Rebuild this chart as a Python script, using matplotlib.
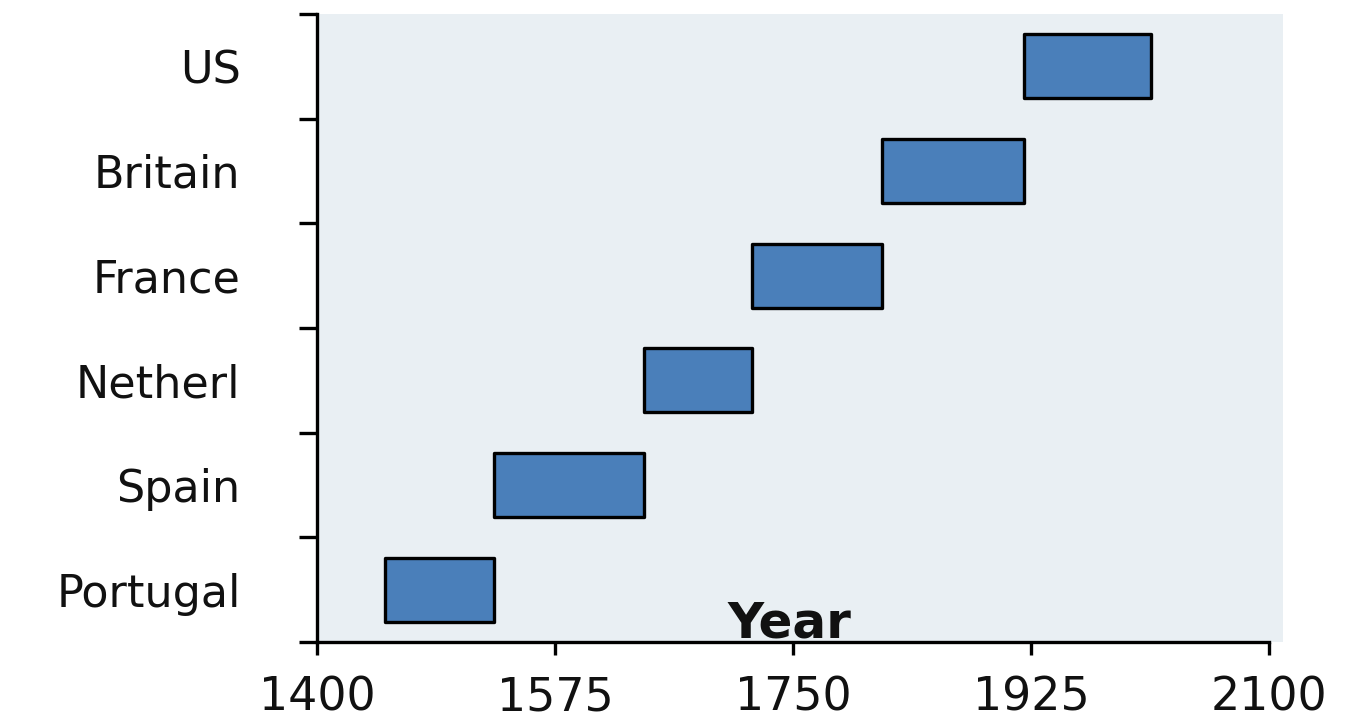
import numpy as np
import matplotlib.pyplot as plt

countries = ['Portugal', 'Spain', 'Netherl', 'France', 'Britain', 'US']
start_year = [1450, 1530, 1640, 1720, 1815, 1920]
end_year = [1530, 1640, 1720, 1815, 1920, 2013]
xticks = [1400, 1575, 1750, 1925, 2100]

plt.rcParams['font.family'] = ['DejaVu Sans']

fig = plt.figure(figsize=(13.53, 7.18), dpi=100)
ax = fig.add_axes([317/1353, 1-642/718, (1283-317)/1353, (642-14)/718])
ax.set_facecolor('#e9eff3')

y = np.arange(len(countries))
widths = np.array(end_year) - np.array(start_year)
bars = ax.barh(y, widths, left=start_year, height=0.61, color='#4a7fba',
               edgecolor='black', linewidth=2.4)
for b in bars:
    b.set_joinstyle('round')

ax.set_xlim(1400, 2110)
ax.set_ylim(-0.5, len(countries) - 0.5)
ax.spines['bottom'].set_bounds(1400, 2100)
for s in ['top', 'right']:
    ax.spines[s].set_visible(False)
for s in ['left', 'bottom']:
    ax.spines[s].set_linewidth(2.4)

ax.set_xticks(xticks)
ax.set_xticklabels([str(v) for v in xticks], fontsize=33, color='#111111')
ax.tick_params(axis='x', length=9, width=2.4, pad=15)

# boundary ticks as major, labels on minor
ax.set_yticks(np.arange(-0.5, len(countries), 1.0))
ax.set_yticklabels([])
ax.tick_params(axis='y', which='major', length=13, width=2.4)
ax.set_yticks(y, minor=True)
ax.set_yticklabels(countries, minor=True, fontsize=32, color='#111111')
ax.tick_params(axis='y', which='minor', length=0, pad=55)

ax.annotate('Year', xy=(1747, -0.5), xytext=(0, 3), textcoords='offset points',
            ha='center', va='baseline', fontsize=36, fontweight='bold',
            color='#111111')

fig.savefig('out.png', dpi=100)
